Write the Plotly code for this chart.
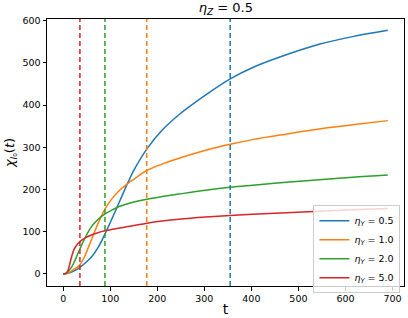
import plotly.graph_objects as go

# Data
t_vals = [0, 5, 10, 16, 23, 30, 36, 45, 60, 75, 89, 105, 120, 137, 150, 178,
          210, 246, 303, 355, 403, 474, 544, 615, 690]
blue = [0, 0.3, 1.5, 3.5, 7, 11, 16, 24, 40, 64, 95, 134, 172, 215, 245, 296,
        340, 377, 424, 462, 489, 519, 544, 562, 577]
orange = [0, 0.3, 2, 6, 11, 16, 22, 40, 81, 122, 154, 180, 198, 214, 224, 245,
          260, 274, 293, 307, 318, 331, 343, 353, 363]
green = [0, 0.5, 5, 13, 27, 45, 60, 82, 112, 130, 142, 152, 160, 166, 170, 177,
         183, 189, 198, 205, 210, 217, 223, 229, 234]
red = [0, 1, 8, 33, 58, 70, 77, 84, 92, 98, 102, 105.5, 108.5, 112, 114.5, 120,
       125, 129.5, 134.5, 138, 141, 145, 148.5, 152, 155]
eta_y_labels = ["0.5", "1.0", "2.0", "5.0"]
vline_t = [355, 177.5, 88.75, 35.5]
colors = ["#1f77b4", "#ff7f0e", "#2ca02c", "#d62728"]

series = [blue, orange, green, red]

fig = go.Figure()
for vals, lab, c in zip(series, eta_y_labels, colors):
    fig.add_trace(go.Scatter(
        x=t_vals, y=vals, mode="lines",
        line=dict(color=c, width=1.5, shape="spline", smoothing=1.0),
        name=f"<i>η</i><sub><i>Y</i></sub> = {lab}",
    ))

for tv, c in zip(vline_t, colors):
    fig.add_shape(type="line", xref="x", yref="paper", x0=tv, x1=tv, y0=0, y1=1,
                  line=dict(color=c, width=1.5, dash="5px,3px"))

axis_common = dict(
    showgrid=False, zeroline=False, showline=True, linecolor="black",
    linewidth=1, mirror=True, ticks="outside", ticklen=3.5, tickwidth=1,
    tickcolor="black", tickfont=dict(family="DejaVu Sans", size=9.5, color="black"),
    automargin=False,
)

fig.update_layout(
    width=408, height=318,
    margin=dict(l=47, r=4, t=19, b=32),
    paper_bgcolor="white", plot_bgcolor="white",
    title=dict(text="<i>η</i><sub><i>Z</i></sub> = 0.5", x=0.5535, xanchor="center",
               y=0.99, yanchor="top",
               font=dict(family="DejaVu Sans", size=13, color="black")),
    xaxis=dict(range=[-34.5, 724.5], tickvals=[0, 100, 200, 300, 400, 500, 600, 700],
               title=dict(text="t", font=dict(family="DejaVu Sans", size=14, color="black"),
                          standoff=1),
               **axis_common),
    yaxis=dict(range=[-28.75, 603.75], tickvals=[0, 100, 200, 300, 400, 500, 600],
               title=dict(text="<i>χ</i><sub><i>l</i>₀</sub>(<i>t</i>)",
                          font=dict(family="DejaVu Sans", size=13, color="black"),
                          standoff=4),
               **axis_common),
    legend=dict(x=0.99, y=-0.027, xanchor="right", yanchor="bottom",
                bgcolor="rgba(255,255,255,0.8)", bordercolor="#cccccc", borderwidth=1,
                font=dict(family="DejaVu Sans", size=9.5, color="black"),
                itemwidth=30, tracegroupgap=0),
    showlegend=True,
)

fig.write_html("out.html", config={"displayModeBar": False})

# remove default body margin so the figure sits at the window's top-left corner
with open("out.html", "r", encoding="utf-8") as f:
    html = f.read()
html = html.replace("<head>", "<head><style>html,body{margin:0;padding:0;overflow:hidden}</style>", 1)
with open("out.html", "w", encoding="utf-8") as f:
    f.write(html)
